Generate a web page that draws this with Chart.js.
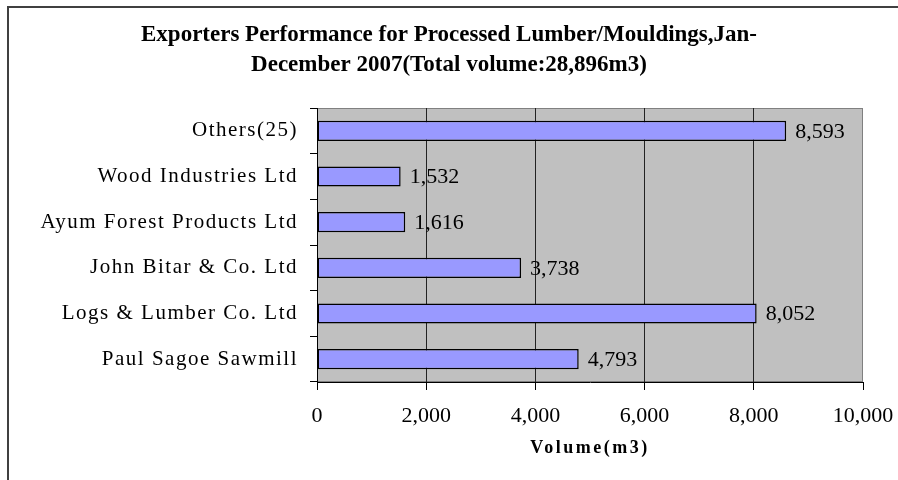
<!DOCTYPE html>
<html>
<head>
<meta charset="utf-8">
<title>Exporters Performance for Processed Lumber/Mouldings</title>
<script src="https://cdn.jsdelivr.net/npm/chart.js@4.4.1/dist/chart.umd.min.js"></script>
<style>
  html, body { margin: 0; padding: 0; background: #fff; }
  canvas { display: block; }
</style>
</head>
<body>
<canvas id="exportersChart" width="898" height="480"></canvas>
<script>
// Exporters performance Jan-Dec 2007, volume in m3 (top to bottom as shown)
const exporters = ['Others(25)', 'Wood Industries Ltd', 'Ayum Forest Products Ltd', 'John Bitar & Co. Ltd', 'Logs & Lumber Co. Ltd', 'Paul Sagoe Sawmill'];
const volumes = [8593, 1532, 1616, 3738, 8052, 4793];
const volumeTicks = [0, 2000, 4000, 6000, 8000, 10000];
const titleLines = ['Exporters Performance for Processed Lumber/Mouldings,Jan-', 'December 2007(Total volume:28,896m3)'];
const axisTitle = 'Volume(m3)';

const serif = 'Liberation Serif';
const xMax = volumeTicks[volumeTicks.length - 1];

// white page, cut-off outer frame and the grey plot area
const plotBackground = {
    id: 'plotBackground',
    beforeDraw(chart) {
        const { ctx, chartArea: a } = chart;
        ctx.save();
        ctx.fillStyle = '#fff';
        ctx.fillRect(0, 0, chart.width, chart.height);
        ctx.strokeStyle = '#404040';
        ctx.lineWidth = 2;
        ctx.beginPath();
        ctx.moveTo(8, chart.height);
        ctx.lineTo(8, 7);
        ctx.lineTo(chart.width, 7);
        ctx.stroke();
        ctx.fillStyle = '#c0c0c0';
        ctx.fillRect(a.left, a.top, a.right - a.left, a.bottom - a.top);
        ctx.strokeStyle = '#808080';
        ctx.lineWidth = 1;
        ctx.strokeRect(a.left + 0.5, a.top + 0.5, a.right - a.left - 1, a.bottom - a.top - 1);
        ctx.restore();
    }
};

// the category names and axis title are set a little spaced out
const spacedText = {
    id: 'spacedText',
    beforeDraw(chart) {
        const ctx = chart.ctx;
        const wrap = (scale, method, spacing) => {
            if (scale['_spaced_' + method]) return;
            const orig = scale[method];
            scale['_spaced_' + method] = true;
            scale[method] = function (...args) {
                ctx.save();
                ctx.letterSpacing = spacing;
                orig.apply(this, args);
                ctx.restore();
            };
        };
        wrap(chart.scales.y, 'drawLabels', '1.5px');
        wrap(chart.scales.x, 'drawTitle', '2.5px');
    }
};

// value at the end of each bar
const valueLabels = {
    id: 'valueLabels',
    afterDatasetsDraw(chart) {
        const ctx = chart.ctx;
        const meta = chart.getDatasetMeta(0);
        ctx.save();
        ctx.font = '22px "' + serif + '"';
        ctx.fillStyle = '#000';
        ctx.textBaseline = 'middle';
        ctx.textAlign = 'left';
        meta.data.forEach((bar, i) => {
            ctx.fillText(volumes[i].toLocaleString('en-US'), bar.x + 9, bar.y + 1);
        });
        ctx.restore();
    }
};

new Chart(document.getElementById('exportersChart'), {
    type: 'bar',
    data: {
        labels: exporters,
        datasets: [{
            data: volumes,
            backgroundColor: '#9999ff',
            borderColor: '#000',
            borderWidth: 1.5,
            borderSkipped: false,
            barPercentage: 0.44,
            categoryPercentage: 1
        }]
    },
    options: {
        indexAxis: 'y',
        responsive: false,
        animation: false,
        layout: {
            padding: { left: 35, right: 35, top: 0, bottom: 0 }
        },
        plugins: {
            legend: { display: false },
            tooltip: { enabled: false },
            title: {
                display: true,
                text: titleLines,
                color: '#000',
                font: { family: serif, size: 23, weight: 'bold', lineHeight: 30 / 23 },
                padding: { top: 20, bottom: 28 }
            }
        },
        scales: {
            x: {
                min: volumeTicks[0],
                max: xMax,
                ticks: {
                    stepSize: volumeTicks[1] - volumeTicks[0],
                    padding: 13,
                    color: '#000',
                    font: { family: serif, size: 22 },
                    callback: function(value) {
                        return value.toLocaleString('en-US');
                    }
                },
                grid: {
                    color: (c) => (c.tick && c.tick.value === xMax) ? 'rgba(0,0,0,0)' : '#222',
                    tickColor: '#000',
                    tickLength: 8,
                    lineWidth: 1
                },
                border: { color: '#000', width: 1 },
                title: {
                    display: true,
                    text: axisTitle,
                    color: '#000',
                    font: { family: serif, size: 18, weight: 'bold' },
                    padding: { top: 21, bottom: 21 }
                },
                afterFit(scale) {
                    scale.height = 98;
                    // the end labels may hang into the side margins
                    scale.paddingLeft = 0;
                    scale.paddingRight = 0;
                }
            },
            y: {
                ticks: {
                    color: '#000',
                    padding: 12,
                    font: { family: serif, size: 21 }
                },
                grid: {
                    drawOnChartArea: false,
                    tickColor: '#000',
                    tickLength: 7,
                    offset: true
                },
                border: { color: '#000', width: 1 },
                afterFit(scale) { scale.width = 317 - 35; }
            }
        }
    },
    plugins: [plotBackground, spacedText, valueLabels]
});
</script>
</body>
</html>
